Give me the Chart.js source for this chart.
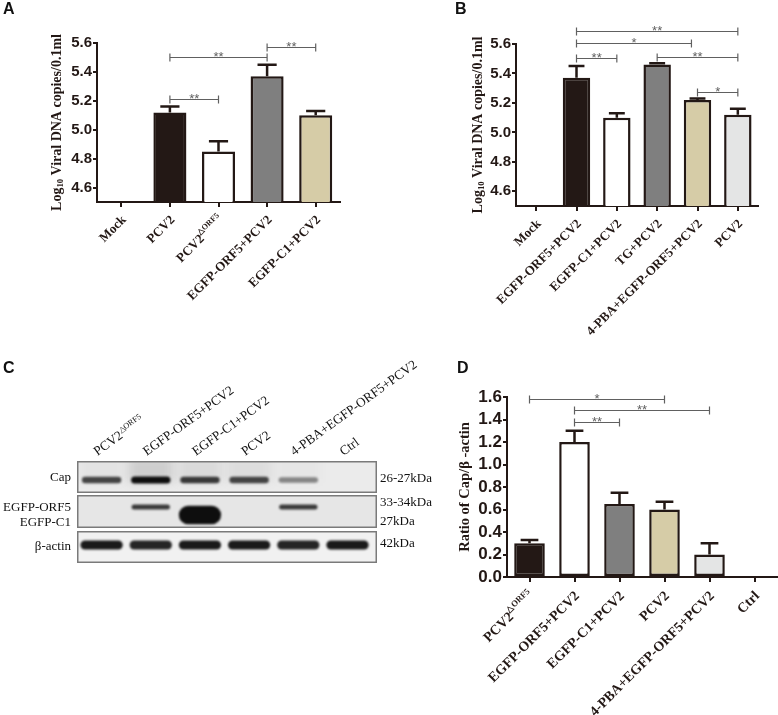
<!DOCTYPE html>
<html>
<head>
<meta charset="utf-8">
<title>PCV2 ORF5 figure</title>
<script src="https://cdn.jsdelivr.net/npm/chart.js@4.4.1/dist/chart.umd.min.js"></script>
<style>
  body { margin: 0; background: #fff; }
  #fig { position: relative; width: 778px; height: 715px; overflow: hidden; background: #fff; }
  #fig canvas { position: absolute; }
  .tag { position: absolute; font: bold 16px Arial, "Liberation Sans", sans-serif; line-height: 16px; color: #111; z-index: 5; }
</style>
</head>
<body>
<div id="fig">
  <canvas id="chartA" width="390" height="380" style="left:0;top:0"></canvas>
  <canvas id="chartB" width="388" height="380" style="left:390px;top:0"></canvas>
  <canvas id="chartD" width="388" height="335" style="left:390px;top:380px"></canvas>
  <canvas id="chartC" width="440" height="240" style="left:0;top:340px"></canvas>
  <div class="tag" style="left:3px;top:1px">A</div>
  <div class="tag" style="left:455px;top:1px">B</div>
  <div class="tag" style="left:3px;top:360px">C</div>
  <div class="tag" style="left:457px;top:360px">D</div>
</div>
<script>
// ---- A : viral DNA copies
const catsA = ['Mock', 'PCV2', 'PCV2^{△ORF5}', 'EGFP-ORF5+PCV2', 'EGFP-C1+PCV2'];
const valsA = [4.5, 5.12, 4.85, 5.37, 5.10];
const errA = [0, 0.04, 0.07, 0.08, 0.03];
const ticksA = [4.6, 4.8, 5.0, 5.2, 5.4, 5.6];
const sigA = [[1, 3, 5.50, '**'], [3, 4, 5.57, '**'], [1, 2, 5.21, '**']];

// ---- B : viral DNA copies with TG / 4-PBA
const catsB = ['Mock', 'EGFP-ORF5+PCV2', 'EGFP-C1+PCV2', 'TG+PCV2', '4-PBA+EGFP-ORF5+PCV2', 'PCV2'];
const valsB = [4.5, 5.37, 5.10, 5.46, 5.22, 5.12];
const errB = [0, 0.08, 0.03, 0.01, 0.01, 0.04];
const ticksB = [4.6, 4.8, 5.0, 5.2, 5.4, 5.6];
const sigB = [[1, 5, 5.69, '**'], [1, 3.85, 5.607, '*'], [1, 2, 5.505, '**'], [3, 5, 5.51, '**'], [4, 5, 5.273, '*']];

// ---- C : western blot (band intensity per lane, 0..1)
const lanesC = ['PCV2^{△ORF5}', 'EGFP-ORF5+PCV2', 'EGFP-C1+PCV2', 'PCV2', '4-PBA+EGFP-ORF5+PCV2', 'Ctrl'];
const capBand = [0.75, 1.0, 0.8, 0.75, 0.45, 0];
const orf5Band = [0, 0.8, 0, 0, 0.8, 0];
const c1Band = [0, 0, 1.0, 0, 0, 0];
const actinBand = [0.95, 0.9, 0.95, 0.95, 0.9, 0.95];
const capHaze = [0.03, 0.12, 0.07, 0.06, 0.02, 0];
const rowNames = ['Cap', 'EGFP-ORF5', 'EGFP-C1', 'β-actin'];
const sizeNames = ['26-27kDa', '33-34kDa', '27kDa', '42kDa'];
// migration positions on the membrane (0 = top of Cap strip, 102 = bottom of actin strip)
const stripsC = [[0, 32], [34, 67], [70, 102]];
const bandPosC = [19, 46, 54, 84];
const rowTickPos = [17, 47, 62, 86];
const sizeTickPos = [18, 42, 61, 83];

// ---- D : Cap / beta-actin ratio
const catsD = ['PCV2^{△ORF5}', 'EGFP-ORF5+PCV2', 'EGFP-C1+PCV2', 'PCV2', '4-PBA+EGFP-ORF5+PCV2', 'Ctrl'];
const valsD = [0.30, 1.20, 0.65, 0.60, 0.20, 0.01];
const errD = [0.03, 0.10, 0.10, 0.07, 0.10, 0];
const ticksD = [0, 0.2, 0.4, 0.6, 0.8, 1.0, 1.2, 1.4, 1.6];
const sigD = [[0, 3, 1.58, '*'], [1, 4, 1.484, '**'], [1, 2, 1.378, '**']];

const SERIF = '"Liberation Serif", "Times New Roman", serif';
const SANS = 'Arial, "Liberation Sans", sans-serif';
const INK = '#231815';
const BLACK = '#231815', WHITE = '#ffffff', GREY = '#7f7f7f', BEIGE = '#d6cca7', LIGHT = '#e4e5e5';

// "_{..}" = subscript, "^{..}" = superscript
function segments(text) {
  const out = [];
  const re = /([_^])\{([^}]*)\}/g;
  let last = 0, m;
  while ((m = re.exec(text))) {
    if (m.index > last) out.push({ t: text.slice(last, m.index), k: '' });
    out.push({ t: m[2], k: m[1] });
    last = re.lastIndex;
  }
  if (last < text.length) out.push({ t: text.slice(last), k: '' });
  return out;
}

function richText(ctx, text, size, weight, align) {
  const segs = segments(text);
  const fontFor = s => `${weight} ${s.k ? size * 0.62 : size}px ${SERIF}`;
  let total = 0;
  segs.forEach(s => { ctx.font = fontFor(s); s.w = ctx.measureText(s.t).width; total += s.w; });
  let cx = align === 'right' ? -total : align === 'center' ? -total / 2 : 0;
  ctx.textAlign = 'left';
  segs.forEach(s => {
    ctx.font = fontFor(s);
    const dy = s.k === '^' ? -size * 0.38 : s.k === '_' ? size * 0.28 : 0;
    ctx.fillText(s.t, cx, dy);
    cx += s.w;
  });
}

// error bars, significance brackets, rotated labels, y title
function decor(o) {
  return {
    id: 'decor',
    afterDatasetsDraw(chart) {
      const { ctx, chartArea: a, scales: { x, y } } = chart;
      const bars = chart.getDatasetMeta(0).data;
      ctx.save();
      ctx.strokeStyle = INK;
      ctx.lineWidth = 2.5;
      o.err.forEach((e, i) => {
        if (!e) return;
        const b = bars[i];
        const top = y.getPixelForValue(o.values[i] + e);
        const cw = b.width * 0.29;
        ctx.beginPath();
        ctx.moveTo(b.x, b.y);
        ctx.lineTo(b.x, top);
        ctx.moveTo(b.x - cw, top);
        ctx.lineTo(b.x + cw, top);
        ctx.stroke();
      });

      ctx.strokeStyle = '#606060';
      ctx.fillStyle = '#606060';
      ctx.lineWidth = 1.2;
      ctx.font = `13px ${SANS}`;
      ctx.textAlign = 'center';
      ctx.textBaseline = 'alphabetic';
      o.sig.forEach(([i, j, lvl, mark]) => {
        const x1 = x.getPixelForValue(i), x2 = x.getPixelForValue(j);
        const yy = Math.round(y.getPixelForValue(lvl)) + 0.5;
        ctx.beginPath();
        ctx.moveTo(x1, yy); ctx.lineTo(x2, yy);
        ctx.moveTo(x1, yy - 4); ctx.lineTo(x1, yy + 4);
        ctx.moveTo(x2, yy - 4); ctx.lineTo(x2, yy + 4);
        ctx.stroke();
        ctx.fillText(mark, (x1 + x2) / 2, yy + 3);
      });

      ctx.fillStyle = INK;
      ctx.textBaseline = 'middle';
      o.labels.forEach((lab, i) => {
        ctx.save();
        ctx.translate(x.getPixelForTick(i) + 3, a.bottom + o.labelDy);
        ctx.rotate(-Math.PI / 4);
        richText(ctx, lab, o.labelSize, 'bold', 'right');
        ctx.restore();
      });

      ctx.save();
      ctx.translate(a.left - o.titleDx, (a.top + a.bottom) / 2);
      ctx.rotate(-Math.PI / 2);
      richText(ctx, o.title, o.titleSize, 'bold', 'center');
      ctx.restore();
      ctx.restore();
    }
  };
}

function barPanel(id, o) {
  return new Chart(document.getElementById(id), {
    type: 'bar',
    data: {
      labels: o.labels,
      datasets: [{
        data: o.values,
        backgroundColor: o.colors,
        borderColor: INK,
        borderWidth: 2.5,
        borderSkipped: false,
        barPercentage: 0.68,
        categoryPercentage: 1
      }]
    },
    options: {
      responsive: false,
      animation: false,
      layout: { padding: o.pad },
      plugins: { legend: { display: false }, tooltip: { enabled: false } },
      scales: {
        x: {
          grid: { offset: false, drawOnChartArea: false, tickLength: 5, color: INK, lineWidth: 2 },
          border: { color: INK, width: 2 },
          ticks: { display: false },
          afterFit: s => { s.height = o.xh; }
        },
        y: {
          min: o.min,
          max: o.max,
          afterBuildTicks: s => { s.ticks = o.ticks.map(v => ({ value: v })); },
          ticks: {
            autoSkip: false,
            color: INK,
            padding: 1,
            font: { family: SANS, weight: 'bold', size: o.tickSize },
            callback: v => v.toFixed(1)
          },
          grid: { drawOnChartArea: false, tickLength: 4, color: INK, lineWidth: 2 },
          border: { color: INK, width: 2 },
          afterFit: s => { s.width = o.yw; }
        }
      }
    },
    plugins: [decor(o)]
  });
}

barPanel('chartA', {
  labels: catsA, values: valsA, err: errA, ticks: ticksA, sig: sigA,
  colors: [BLACK, BLACK, WHITE, GREY, BEIGE],
  min: 4.5, max: 5.6,
  pad: { top: 43, right: 50, left: 0, bottom: 0 }, yw: 97, xh: 178,
  tickSize: 15, labelSize: 13, labelDy: 16,
  title: 'Log_{10} Viral DNA copies/0.1ml', titleSize: 14, titleDx: 40
});

barPanel('chartB', {
  labels: catsB, values: valsB, err: errB, ticks: ticksB, sig: sigB,
  colors: [BLACK, BLACK, WHITE, GREY, BEIGE, LIGHT],
  min: 4.5, max: 5.6,
  pad: { top: 44, right: 20, left: 0, bottom: 0 }, yw: 126, xh: 174,
  tickSize: 15, labelSize: 13, labelDy: 16,
  title: 'Log_{10} Viral DNA copies/0.1ml', titleSize: 14, titleDx: 38
});

barPanel('chartD', {
  labels: catsD, values: valsD, err: errD, ticks: ticksD, sig: sigD,
  colors: [BLACK, WHITE, GREY, BEIGE, LIGHT, LIGHT],
  min: 0, max: 1.6,
  pad: { top: 17, right: 1, left: 0, bottom: 0 }, yw: 117, xh: 138,
  tickSize: 17, labelSize: 14, labelDy: 17,
  title: 'Ratio of Cap/β -actin', titleSize: 14.5, titleDx: 42
});

// ---- blot
const bandStyle = [
  { w: 0.8, h: 6.5 },   // Cap
  { w: 0.78, h: 5 },    // EGFP-ORF5
  { w: 0.86, h: 17 },   // EGFP-C1
  { w: 0.86, h: 8.5 }   // beta-actin
];
const stripFill = ['#ebebeb', '#e6e6e6', '#f1f1f1'];

const blot = {
  id: 'blot',
  beforeDatasetsDraw(chart) {
    const { ctx, chartArea: a, scales: { x, y } } = chart;
    const k = x.getPixelForValue(1) - x.getPixelForValue(0);
    ctx.save();
    stripsC.forEach((s, j) => {
      const t = y.getPixelForValue(s[0]), b = y.getPixelForValue(s[1]);
      ctx.fillStyle = stripFill[j];
      ctx.fillRect(a.left, t, a.right - a.left, b - t);
    });

    // smeared background above the Cap band
    const t0 = y.getPixelForValue(stripsC[0][0]), b0 = y.getPixelForValue(stripsC[0][1]);
    ctx.save();
    ctx.beginPath();
    ctx.rect(a.left, t0, a.right - a.left, b0 - t0);
    ctx.clip();
    ctx.filter = 'blur(5px)';
    capHaze.forEach((h, i) => {
      if (!h) return;
      const cx = x.getPixelForValue(i + 0.5);
      ctx.fillStyle = `rgba(0,0,0,${h})`;
      ctx.fillRect(cx - k * 0.45, t0 - 4, k * 0.9, (b0 - t0) * 0.8);
    });
    ctx.restore();

    ctx.filter = 'blur(1.3px)';
    chart.data.datasets.forEach((ds, d) => {
      const meta = chart.getDatasetMeta(d);
      const st = bandStyle[d];
      meta.data.forEach((pt, i) => {
        const v = ds.data[i].v;
        if (!v) return;
        const w = k * st.w, h = st.h * (0.6 + 0.5 * v);
        ctx.fillStyle = `rgba(14,14,14,${v})`;
        ctx.beginPath();
        ctx.roundRect(pt.x - w / 2, pt.y - h / 2, w, h, h / 2);
        ctx.fill();
      });
    });
    ctx.filter = 'none';

    ctx.strokeStyle = '#7a7a7a';
    ctx.lineWidth = 1.5;
    stripsC.forEach(s => {
      const t = y.getPixelForValue(s[0]), b = y.getPixelForValue(s[1]);
      ctx.strokeRect(a.left + 0.75, t + 0.75, a.right - a.left - 1.5, b - t - 1.5);
    });
    ctx.restore();
  },
  afterDraw(chart) {
    const { ctx, chartArea: a, scales: { x } } = chart;
    ctx.save();
    ctx.fillStyle = '#111';
    ctx.textBaseline = 'alphabetic';
    lanesC.forEach((lab, i) => {
      ctx.save();
      ctx.translate(x.getPixelForValue(i + 0.5) - 4, a.top - 5);
      ctx.rotate(-36 * Math.PI / 180);
      richText(ctx, lab, 13.2, 'normal', 'left');
      ctx.restore();
    });
    ctx.restore();
  }
};

const bandRows = [capBand, orf5Band, c1Band, actinBand];
new Chart(document.getElementById('chartC'), {
  type: 'scatter',
  data: {
    datasets: bandRows.map((row, d) => ({
      label: rowNames[d],
      data: row.map((v, i) => ({ x: i + 0.5, y: bandPosC[d], v: v }))
    }))
  },
  options: {
    responsive: false,
    animation: false,
    layout: { padding: { top: 121, bottom: 17, left: 0, right: 0 } },
    elements: { point: { radius: 0, hoverRadius: 0 } },
    plugins: { legend: { display: false }, tooltip: { enabled: false } },
    scales: {
      x: { type: 'linear', min: 0, max: 6.1, display: false },
      y: {
        type: 'linear', min: 0, max: 102, reverse: true, position: 'left',
        afterBuildTicks: s => { s.ticks = rowTickPos.map(v => ({ value: v })); },
        ticks: { autoSkip: false, callback: (v, i) => rowNames[i], color: '#111', padding: 6, font: { family: SERIF, size: 13 } },
        grid: { display: false, drawTicks: false },
        border: { display: false },
        afterFit: s => { s.width = 77; }
      },
      y2: {
        type: 'linear', min: 0, max: 102, reverse: true, position: 'right',
        afterBuildTicks: s => { s.ticks = sizeTickPos.map(v => ({ value: v })); },
        ticks: { autoSkip: false, callback: (v, i) => sizeNames[i], color: '#111', padding: 3, font: { family: SERIF, size: 13 } },
        grid: { display: false, drawTicks: false },
        border: { display: false },
        afterFit: s => { s.width = 63; }
      }
    }
  },
  plugins: [blot]
});
</script>
</body>
</html>
